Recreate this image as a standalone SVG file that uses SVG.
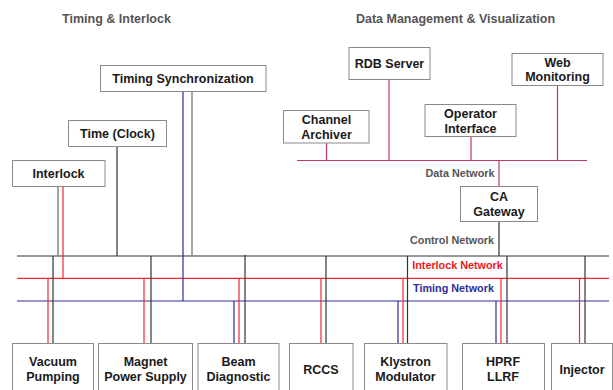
<svg xmlns="http://www.w3.org/2000/svg" width="613" height="390" viewBox="0 0 613 390">
<style>
.box{fill:#fff;stroke:#8a8a8a;stroke-width:1}
.t{font-family:"Liberation Sans",Arial,sans-serif;font-weight:bold;font-size:12.5px;fill:#1a1a1a;text-anchor:middle}
.title{font-family:"Liberation Sans",Arial,sans-serif;font-weight:bold;font-size:12.5px;fill:#555;text-anchor:middle}
.lbl{font-family:"Liberation Sans",Arial,sans-serif;font-weight:bold;font-size:10.8px;text-anchor:middle}
.k{stroke:#333;stroke-width:1.2;fill:none}
.g{stroke:#888;stroke-width:1.5;fill:none}
.r{stroke:#f02828;stroke-width:1.2;fill:none}
.b{stroke:#2e2e96;stroke-width:1.2;fill:none}
.d{stroke:#c23a5e;stroke-width:1.2;fill:none}
</style>
<rect width="613" height="390" fill="#fff"/>
<text class="title" x="116.5" y="22.5">Timing &amp; Interlock</text>
<text class="title" x="455.5" y="22.5">Data Management &amp; Visualization</text>
<g id="connectors">
<!-- buses -->
<line class="k" x1="17" y1="256" x2="609" y2="256"/>
<line class="r" x1="17" y1="278.3" x2="609" y2="278.3"/>
<line class="b" x1="17" y1="301" x2="609" y2="301"/>
<line class="d" x1="297" y1="160.5" x2="587" y2="160.5"/>
<!-- top left -->
<line class="g" x1="58" y1="186" x2="58" y2="256"/>
<line class="r" x1="63" y1="186" x2="63" y2="278.3"/>
<line class="k" x1="117" y1="146" x2="117" y2="256"/>
<line class="b" x1="183" y1="91" x2="183" y2="301"/>
<line class="g" x1="192" y1="91" x2="192" y2="256"/>
<!-- data network -->
<line class="d" x1="326.5" y1="143" x2="326.5" y2="160.5"/>
<line class="d" x1="389" y1="79.5" x2="389" y2="160.5"/>
<line class="d" x1="471" y1="136.5" x2="471" y2="160.5"/>
<line class="d" x1="557.5" y1="85.5" x2="557.5" y2="160.5"/>
<line class="d" x1="499" y1="160.5" x2="499" y2="186.5"/>
<line class="k" x1="499" y1="221.5" x2="499" y2="256"/>
<!-- bottom drops -->
<line class="r" x1="48" y1="278.3" x2="48" y2="344"/>
<line class="k" x1="53" y1="256" x2="53" y2="344"/>
<line class="r" x1="144" y1="278.3" x2="144" y2="344"/>
<line class="k" x1="151" y1="256" x2="151" y2="344"/>
<line class="b" x1="234" y1="301" x2="234" y2="344"/>
<line class="r" x1="239" y1="278.3" x2="239" y2="344"/>
<line class="k" x1="245" y1="255" x2="245" y2="344"/>
<line class="r" x1="321" y1="278.3" x2="321" y2="344"/>
<line class="k" x1="326" y1="256" x2="326" y2="344"/>
<line class="b" x1="398" y1="301" x2="398" y2="344"/>
<line class="r" x1="403" y1="278.3" x2="403" y2="344"/>
<line class="k" x1="407.5" y1="256" x2="407.5" y2="344"/>
<line class="b" x1="496" y1="301" x2="496" y2="344"/>
<line class="r" x1="501" y1="278.3" x2="501" y2="344"/>
<line class="k" x1="507" y1="256" x2="507" y2="344"/>
<line class="r" x1="579.5" y1="278.3" x2="579.5" y2="344"/>
<line class="k" x1="585" y1="256" x2="585" y2="344"/>
</g>
<text class="lbl" x="460" y="177" fill="#555">Data Network</text>
<text class="lbl" x="452" y="244" fill="#555">Control Network</text>
<text class="lbl" x="457.5" y="268.5" fill="#f01818">Interlock Network</text>
<text class="lbl" x="453.5" y="291.5" fill="#2e2e96">Timing Network</text>
<g id="timing-sync"><rect class="box" x="100.5" y="65.5" width="165.5" height="26"/><text class="t" x="183" y="83">Timing Synchronization</text></g>
<g id="time-clock"><rect class="box" x="68.5" y="120.5" width="98" height="26"/><text class="t" x="117.5" y="138">Time (Clock)</text></g>
<g id="interlock"><rect class="box" x="12.5" y="160.5" width="92.5" height="26"/><text class="t" x="58.5" y="178">Interlock</text></g>
<g id="rdb"><rect class="box" x="349" y="47.5" width="81" height="32"/><text class="t" x="389.5" y="68">RDB Server</text></g>
<g id="web"><rect class="box" x="512" y="53.5" width="91" height="32"/><text class="t" x="557.5" y="67">Web</text><text class="t" x="557.5" y="81">Monitoring</text></g>
<g id="archiver"><rect class="box" x="283.5" y="110.5" width="85.5" height="32.5"/><text class="t" x="326.5" y="124">Channel</text><text class="t" x="326.5" y="138.5">Archiver</text></g>
<g id="operator"><rect class="box" x="425" y="104.5" width="91" height="32"/><text class="t" x="470.5" y="118">Operator</text><text class="t" x="470.5" y="132.5">Interface</text></g>
<g id="ca-gateway"><rect class="box" x="460.5" y="186.5" width="77" height="35"/><text class="t" x="499" y="201">CA</text><text class="t" x="499" y="216">Gateway</text></g>
<g id="vacuum"><rect class="box" x="12.5" y="343.5" width="81" height="52"/><text class="t" x="53" y="366">Vacuum</text><text class="t" x="53" y="381">Pumping</text></g>
<g id="magnet"><rect class="box" x="98.5" y="343.5" width="94" height="52"/><text class="t" x="145.5" y="366">Magnet</text><text class="t" x="145.5" y="381">Power Supply</text></g>
<g id="beam"><rect class="box" x="198" y="343.5" width="81" height="52"/><text class="t" x="238.5" y="366">Beam</text><text class="t" x="238.5" y="381">Diagnostic</text></g>
<g id="rccs"><rect class="box" x="289.5" y="343.5" width="63.5" height="52"/><text class="t" x="321" y="373.5">RCCS</text></g>
<g id="klystron"><rect class="box" x="364.5" y="343.5" width="82.5" height="52"/><text class="t" x="405.5" y="366">Klystron</text><text class="t" x="405.5" y="381">Modulator</text></g>
<g id="hprf"><rect class="box" x="462.5" y="343.5" width="82" height="52"/><text class="t" x="503" y="366">HPRF</text><text class="t" x="503" y="381">LLRF</text></g>
<g id="injector"><rect class="box" x="551.5" y="343.5" width="61" height="52"/><text class="t" x="582" y="373.5">Injector</text></g>
</svg>
